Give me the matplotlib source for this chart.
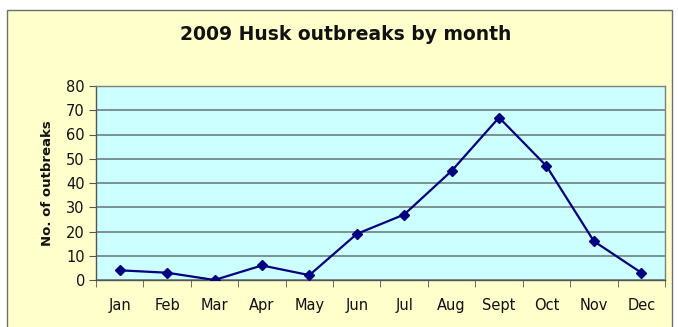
import matplotlib.pyplot as plt
from matplotlib.patches import Rectangle

months = ["Jan", "Feb", "Mar", "Apr", "May", "Jun", "Jul", "Aug", "Sept", "Oct", "Nov", "Dec"]
outbreaks = [4, 3, 0, 6, 2, 19, 27, 45, 67, 47, 16, 3]
y_ticks = [0, 10, 20, 30, 40, 50, 60, 70, 80]

plt.rcParams['font.family'] = ['DejaVu Sans']

W, H = 678, 327
fig = plt.figure(figsize=(W / 100, H / 100), dpi=100, facecolor='white')

# yellow chart area with a thin border (runs off the bottom edge)
fig.patches.append(Rectangle((7 / W, -5 / H), 665 / W, 322 / H, transform=fig.transFigure,
                             facecolor='#FFFFCC', edgecolor='#6E6E6E', lw=1.0, zorder=-10))

ax = fig.add_axes([96 / W, 47 / H, 569 / W, 194 / H])
ax.set_facecolor('#CCFFFF')

x = range(len(months))
ax.plot(x, outbreaks, color='#000080', lw=1.6, marker='D', markersize=5, zorder=3)

ax.set_xlim(-0.5, len(months) - 0.5)
ax.set_ylim(0, 80)
ax.set_yticks(y_ticks)
ax.set_xticks(list(x))
ax.set_xticklabels(months)
ax.set_xticks([i - 0.5 for i in range(len(months) + 1)], minor=True)
ax.tick_params(axis='x', which='major', length=0, pad=13, labelsize=10.5, labelcolor='#111111')
ax.tick_params(axis='x', which='minor', length=5, direction='out', color='#555555')
ax.tick_params(axis='y', length=5, direction='out', color='#555555', labelsize=10.5, pad=3,
               labelcolor='#111111')

ax.grid(axis='y', color='#6F7F7F', lw=1.2, zorder=1)
for s in ax.spines.values():
    s.set_color('#7F7F7F')
    s.set_linewidth(1.0)
ax.spines['bottom'].set_color('#555555')
ax.spines['left'].set_color('#555555')

ax.set_ylabel('No. of outbreaks', fontsize=9.5, fontweight='bold', labelpad=9, color='#111111')
fig.text(346 / W, 1 - 35 / H, '2009 Husk outbreaks by month', ha='center', va='center',
         fontsize=13.5, fontweight='bold', color='#111111')

fig.savefig('out.png', dpi=100, facecolor='white')
